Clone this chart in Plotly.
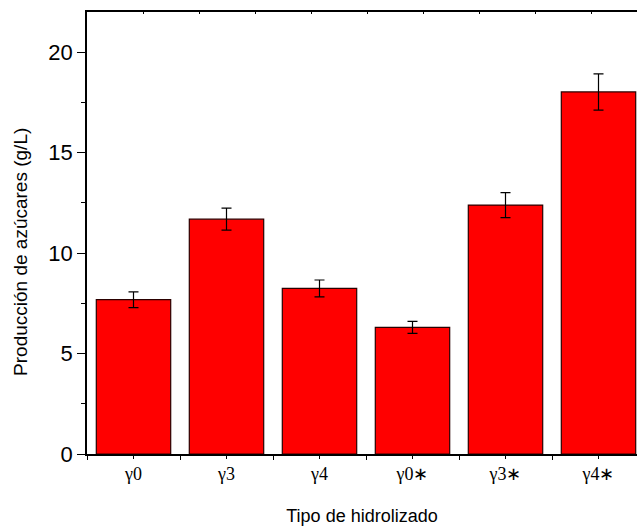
import plotly.graph_objects as go

# Sugar production per hydrolysate type
categories = ["γ0", "γ3", "γ4", "γ0∗", "γ3∗", "γ4∗"]
sugar_gL = [7.68, 11.69, 8.24, 6.30, 12.39, 18.02]
sugar_err = [0.39, 0.55, 0.42, 0.30, 0.62, 0.90]

positions = list(range(len(categories)))

fig = go.Figure()
fig.add_trace(go.Bar(
    x=positions,
    y=sugar_gL,
    width=0.8,
    marker=dict(color="#ff0000", line=dict(color="#2a0000", width=1.2)),
    error_y=dict(type="data", array=sugar_err, visible=True,
                 color="black", thickness=1.2, width=5),
    showlegend=False,
    hoverinfo="skip",
))
# empty trace that anchors the top frame axis
fig.add_trace(go.Scatter(x=[], y=[], xaxis="x2", yaxis="y",
                         showlegend=False, hoverinfo="skip"))

fig.update_layout(
    width=637, height=529,
    margin=dict(l=87, r=0, t=12, b=75),
    paper_bgcolor="white", plot_bgcolor="white",
    font=dict(family="Liberation Sans", color="black"),
    xaxis=dict(
        range=[-0.5, 5.414],
        tickmode="array", tickvals=positions, ticktext=categories,
        tickfont=dict(family="Liberation Serif", size=18),
        ticks="outside", ticklen=3, tickwidth=1, tickcolor="black",
        minor=dict(tickmode="array",
                   tickvals=[p - 0.5 for p in positions] + [positions[-1] + 0.5],
                   ticks="outside", ticklen=4, tickwidth=1, tickcolor="black"),
        showline=True, linecolor="black", linewidth=1.6,
        showgrid=False, zeroline=False,
        title=dict(text="Tipo de hidrolizado", font=dict(size=18), standoff=26),
    ),
    xaxis2=dict(
        overlaying="x", side="top", anchor="y",
        range=[0, 550 / 56], dtick=1, tick0=0,
        ticks="inside", ticklen=2, tickwidth=1, tickcolor="black",
        showticklabels=False,
        showline=True, linecolor="black", linewidth=1.6,
        showgrid=False, zeroline=False,
    ),
    yaxis=dict(
        range=[0, 22],
        tickmode="linear", tick0=0, dtick=5,
        tickfont=dict(size=22),
        ticks="outside", ticklen=8, tickwidth=1, tickcolor="black",
        minor=dict(tickmode="linear", tick0=0, dtick=2.5,
                   ticks="outside", ticklen=4, tickwidth=1, tickcolor="black"),
        showline=True, linecolor="black", linewidth=1.6,
        showgrid=False, zeroline=False,
    ),
    annotations=[dict(
        text="Producción de azúcares (g/L)",
        xref="paper", yref="paper", x=-0.122, y=0.457, xanchor="center", yanchor="middle",
        textangle=-90, showarrow=False, font=dict(size=19),
    )],
)

fig.write_html("out.html")
